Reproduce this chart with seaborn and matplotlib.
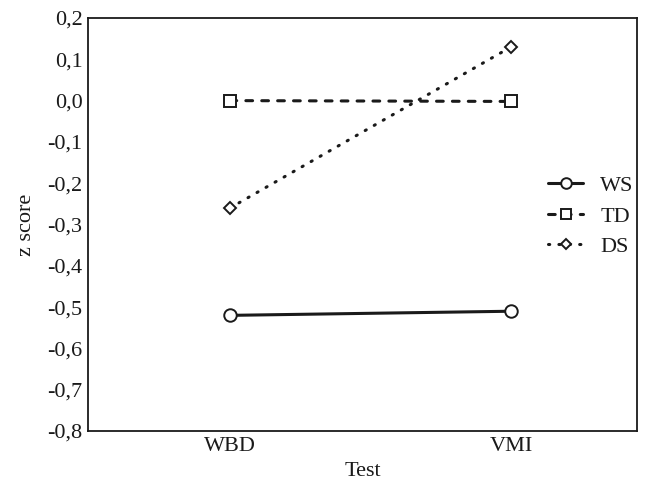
import matplotlib
matplotlib.use("Agg")
import matplotlib.pyplot as plt
import seaborn as sns
import pandas as pd
from matplotlib.ticker import FuncFormatter, MultipleLocator

tests = ["WBD", "VMI"]
groups = ["WS", "TD", "DS"]
ws_values = [-0.52, -0.51]
td_values = [0.0, -0.002]
ds_values = [-0.26, 0.13]

sns.set_theme(style="white")
plt.rcParams['font.family'] = ['Liberation Serif', 'DejaVu Serif']

fig = plt.figure(figsize=(6.52, 4.87), dpi=100)
ax = fig.add_axes([0.135, 0.115, 0.842, 0.848])

styles = {
    "WS": dict(marker="o", linestyle="-"),
    "TD": dict(marker="s", linestyle=(0, (2.2, 3.0))),
    "DS": dict(marker="D", linestyle=(0, (0.4, 3.0))),
}
msize = {"WS": 9, "TD": 8.5, "DS": 6.5}
for g, vals in zip(groups, [ws_values, td_values, ds_values]):
    df = pd.DataFrame({"Test": tests, "z": vals})
    sns.lineplot(data=df, x="Test", y="z", ax=ax, color="#1a1a1a", lw=2.2,
                 markersize=msize[g], markerfacecolor="white",
                 markeredgecolor="#1a1a1a", markeredgewidth=1.4,
                 label=g, **styles[g])
for line in ax.lines:
    line.set_dash_capstyle("round")

ax.set_xlim(-0.505, 1.448)
ax.set_ylim(-0.8, 0.2)
ax.yaxis.set_major_locator(MultipleLocator(0.1))
ax.yaxis.set_major_formatter(FuncFormatter(lambda v, p: f"{v:.1f}".replace(".", ",").replace("-0,0", "0,0")))
ax.tick_params(axis="both", length=0, labelsize=16, colors="#1a1a1a", pad=4)
ax.tick_params(axis="x", pad=4)
ax.set_xlabel("Test", fontsize=16, color="#1a1a1a", labelpad=5)
ax.set_ylabel("z score", fontsize=16, color="#1a1a1a", labelpad=8)
for s in ax.spines.values():
    s.set_color("#1a1a1a")
    s.set_linewidth(1.3)

leg = ax.legend(loc="center right", bbox_to_anchor=(1.03, 0.52), frameon=False,
                fontsize=16, handlelength=1.6, handletextpad=0.75, labelspacing=0.45,
                markerscale=0.85)
for t in leg.get_texts():
    t.set_color("#1a1a1a")

fig.savefig("out.png", dpi=100)
